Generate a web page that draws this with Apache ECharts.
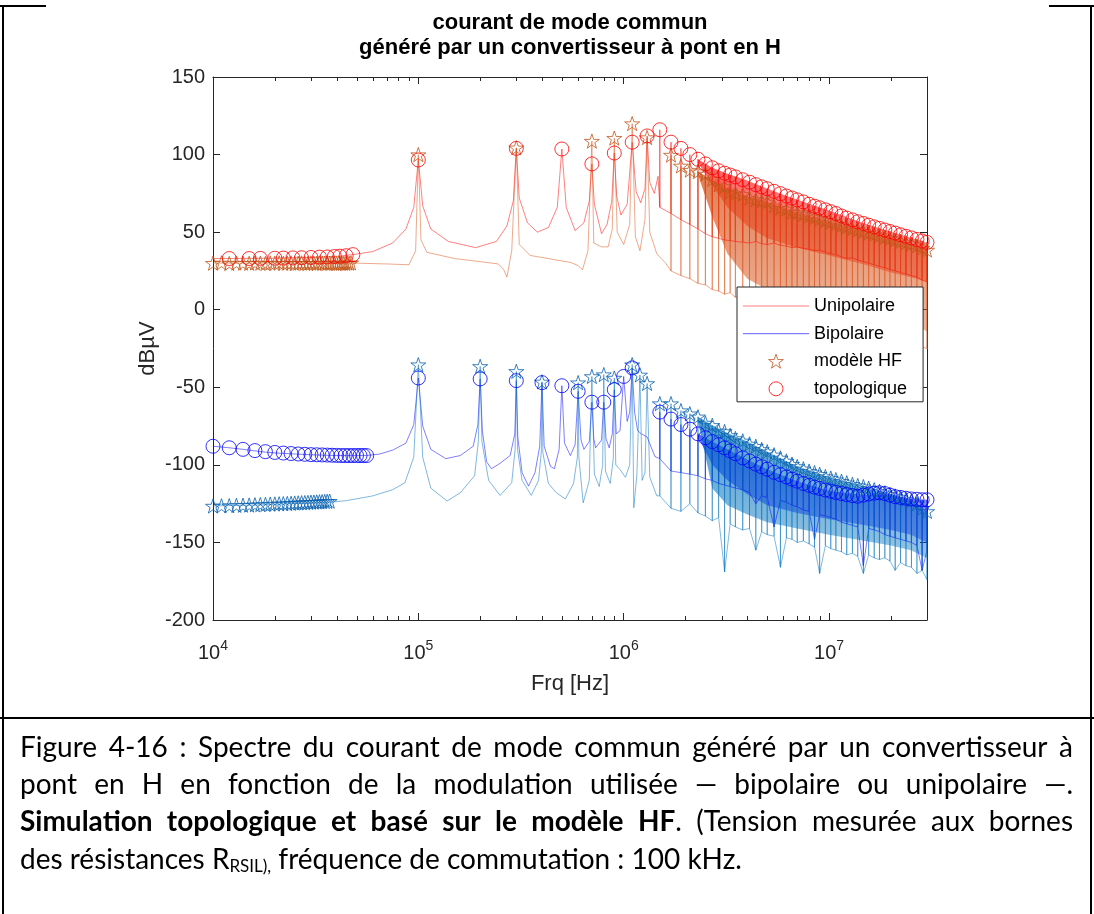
<!DOCTYPE html>
<html>
<head>
<meta charset="utf-8">
<script src="https://cdn.jsdelivr.net/npm/echarts@6.0.0/dist/echarts.min.js"></script>
<style>
html,body{margin:0;padding:0;background:#fff;}
#main{width:1094px;height:914px;}
</style>
</head>
<body>
<div id="main"></div>
<script>
// ================= DATA =================
const titleText = 'courant de mode commun\ngénéré par un convertisseur à pont en H';
const xName = 'Frq [Hz]';
const yName = 'dBµV';
const legendNames = ['Unipolaire', 'Bipolaire', 'modèle HF', 'topologique'];
const yMin = -200, yMax = 150, yStep = 50;
const xMin = 1e4, xMax = 3e7;
const minorTickF = [2e4,3e4,4e4,5e4,6e4,7e4,8e4,9e4,2e5,3e5,4e5,5e5,6e5,7e5,8e5,9e5,2e6,3e6,4e6,5e6,6e6,7e6,8e6,9e6,2e7];

// ---- Unipolaire, topological (line) : low / mid frequency path [Hz, dBµV]
const uniTopoTrace = [[1e4,33],[2e4,33.2],[3e4,33.7],[4e4,34.4],[4.8e4,35.5],[6e4,37.5],[7.5e4,43],[8.7e4,52],[9.5e4,66],[1e5,97],[1.05e5,67],[1.15e5,52],[1.4e5,44],[1.9e5,40],[2.4e5,44],[2.7e5,54],[2.9e5,70],[3e5,104],[3.1e5,72],[3.4e5,56],[3.8e5,50],[4.3e5,53],[4.75e5,66],[5e5,103.6],[5.25e5,66],[5.8e5,51],[6.4e5,56],[6.8e5,70],[7e5,94],[7.2e5,68],[7.8e5,49],[8.3e5,55],[8.75e5,70],[9e5,101],[9.25e5,73],[9.7e5,61],[1.04e6,68],[1.1e6,108],[1.15e6,76],[1.21e6,69],[1.27e6,78],[1.3e6,112],[1.34e6,82],[1.41e6,75],[1.47e6,86]];
// ---- Unipolaire, HF model (line)
const uniHFTrace = [[1e4,30],[2e4,30],[3e4,30],[4e4,30],[5e4,30],[7e4,29.5],[9e4,29],[9.7e4,38],[1e5,100],[1.03e5,45],[1.1e5,37],[1.5e5,33],[2e5,31],[2.45e5,29.5],[2.6e5,26],[2.7e5,21],[2.85e5,38],[3e5,104.4],[3.1e5,42],[3.5e5,35],[4.5e5,32.5],[5.5e5,30.5],[6e5,28.5],[6.3e5,25.7],[6.7e5,38],[7e5,108.7],[7.15e5,43],[7.8e5,40.5],[8.4e5,40.5],[8.8e5,52],[9e5,110.6],[9.3e5,50],[1e6,42],[1.07e6,55],[1.1e6,120],[1.14e6,47],[1.2e6,38],[1.27e6,58],[1.3e6,111],[1.34e6,50],[1.45e6,36],[1.6e6,30]];
// ---- Bipolaire, topological (line)
const biTopoTrace = [[1e4,-88],[1.2e4,-89],[1.4e4,-90],[1.6e4,-91],[1.8e4,-91.8],[2e4,-92.3],[2.5e4,-93],[3e4,-93.5],[4e4,-94],[5.6e4,-94],[6.5e4,-93],[7.5e4,-90.5],[8.7e4,-86],[9.5e4,-74],[1e5,-44],[1.05e5,-75],[1.15e5,-90],[1.36e5,-96],[1.6e5,-94],[1.85e5,-88],[1.95e5,-74],[2e5,-44.6],[2.05e5,-78],[2.15e5,-98],[2.27e5,-102.5],[2.5e5,-99],[2.8e5,-94],[2.95e5,-80],[3e5,-45.7],[3.05e5,-82],[3.2e5,-105],[3.44e5,-113.7],[3.7e5,-105],[3.9e5,-88],[4e5,-47],[4.1e5,-88],[4.4e5,-101],[4.6e5,-102.5],[4.85e5,-90],[5e5,-49],[5.15e5,-86],[5.5e5,-94],[5.8e5,-87],[6e5,-52.6],[6.2e5,-84],[6.4e5,-90],[6.8e5,-85],[7e5,-59.6],[7.15e5,-83],[7.3e5,-89],[7.8e5,-84],[8e5,-59.6],[8.2e5,-83],[8.5e5,-89],[8.8e5,-80],[9e5,-51.5],[9.2e5,-80],[9.6e5,-78],[1e6,-43],[1.04e6,-72],[1.07e6,-66],[1.1e6,-37.5],[1.13e6,-66],[1.17e6,-78],[1.22e6,-80],[1.3e6,-82],[1.42e6,-94.7]];
// ---- Bipolaire, HF model (line)
const biHFTrace = [[1e4,-126.5],[2e4,-125.5],[3e4,-124.5],[3.8e4,-124],[4.5e4,-123],[6e4,-120],[7.5e4,-116],[8.6e4,-111.5],[9.5e4,-95],[1e5,-35.4],[1.05e5,-95],[1.15e5,-115],[1.38e5,-123.3],[1.6e5,-118],[1.88e5,-107],[1.96e5,-85],[2e5,-36.5],[2.04e5,-85],[2.2e5,-110],[2.5e5,-119.7],[2.85e5,-111.5],[2.96e5,-90],[3e5,-39.7],[3.04e5,-90],[3.2e5,-110],[3.55e5,-119.7],[3.85e5,-110],[3.97e5,-92],[4e5,-46.5],[4.04e5,-92],[4.3e5,-112],[4.7e5,-118],[5.2e5,-122],[5.7e5,-112],[5.95e5,-95],[6e5,-47],[6.05e5,-95],[6.35e5,-124.5],[6.8e5,-110],[7e5,-43],[7.2e5,-106],[7.6e5,-114],[7.9e5,-100],[8e5,-41.8],[8.15e5,-104],[8.6e5,-112],[8.9e5,-96],[9e5,-44],[9.15e5,-100],[9.6e5,-103],[1.02e6,-108],[1.07e6,-100],[1.1e6,-35.4],[1.12e6,-127.6],[1.16e6,-106],[1.2e6,-42],[1.23e6,-110],[1.27e6,-105],[1.3e6,-47.5],[1.34e6,-108],[1.45e6,-120]];

// ---- markers at low / mid frequency
const uniStarsLow = [[10000,30],[11000,30.2],[12000,29.8],[13000,30.1],[14000,30],[15000,29.9],[16000,30.2],[17000,30],[18000,29.8],[19000,30.1],[20000,30],[21000,30.2],[22000,29.9],[23000,30],[24000,30.1],[25000,29.8],[26000,30],[27000,30.2],[28000,30],[29000,29.9],[30000,30.1],[31000,30],[32000,29.8],[33000,30.2],[34000,30],[35000,30.1],[36000,29.9],[37000,30],[38000,30.2],[39000,30],[40000,29.8],[41000,30.1],[42000,30],[43000,30],[44000,29.9],[45000,30.1],[46000,30],[47000,30.2]];
const uniCirclesLow = [[12000,33],[15000,33],[17000,33.1],[20000,33.2],[22000,33.3],[24500,33.4],[27000,33.5],[30000,33.7],[33000,33.9],[36000,34],[39000,34.3],[41500,34.5],[44500,34.8],[48000,35.5]];
const biStarsLow = [[10000,-126.5],[11000,-126.4],[12000,-126.3],[13000,-126.1],[14000,-126],[15000,-125.9],[16000,-125.7],[17000,-125.6],[18000,-125.5],[19000,-125.3],[20000,-125.2],[21000,-125.1],[22000,-125],[23000,-124.9],[24000,-124.8],[25000,-124.6],[26000,-124.5],[27000,-124.4],[28000,-124.3],[29000,-124.2],[30000,-124.1],[31000,-124],[32000,-123.9],[33000,-123.8],[34000,-123.7],[35000,-123.6],[36000,-123.5],[37000,-123.4]];
const biCirclesLow = [[10000,-88],[12000,-89],[14000,-90],[16000,-90.8],[18000,-91.5],[20000,-92],[22000,-92.4],[24000,-92.7],[26000,-93],[28000,-93.2],[30000,-93.4],[32000,-93.5],[34000,-93.6],[36000,-93.7],[38000,-93.8],[40000,-93.9],[42000,-94],[44000,-94],[46000,-94],[48000,-94],[50000,-94],[52000,-94],[54000,-94],[56000,-94]];
const uniStarsMid = [[1e5,100],[3e5,104.4],[7e5,108.7],[9e5,110.6],[1.1e6,120],[1.3e6,111]];
const uniCirclesMid = [[1e5,96.5],[3e5,104],[5e5,103.6],[7e5,94],[9e5,101],[1.1e6,108],[1.3e6,112]];
const biStarsMid = [[1e5,-35.4],[2e5,-36.5],[3e5,-39.7],[4e5,-46.5],[6e5,-47],[7e5,-43],[8e5,-41.8],[9e5,-44],[1.1e6,-35.4],[1.2e6,-42],[1.3e6,-47.5]];
const biCirclesMid = [[1e5,-44],[2e5,-44.6],[3e5,-45.7],[4e5,-47],[5e5,-49],[6e5,-52.6],[7e5,-59.6],[8e5,-59.6],[9e5,-51.5],[1e6,-43],[1.1e6,-37.5]];

// ---- dense harmonic region (>1.5 MHz): frequencies, peak values and floors
const denseF = [1.5e6,1.7e6,1.9e6,2.1e6,2.3e6,2.5e6,2.7e6,2.9e6,3.1e6,3.3e6,3.5e6,3.8e6,4.1e6,4.4e6,4.7e6,5.0e6,5.4e6,5.8e6,6.2e6,6.6e6,7.0e6,7.5e6,8.0e6,8.5e6,9.0e6,9.6e6,1.02e7,1.08e7,1.15e7,1.22e7,1.3e7,1.38e7,1.47e7,1.56e7,1.66e7,1.76e7,1.87e7,1.98e7,2.1e7,2.23e7,2.37e7,2.52e7,2.68e7,2.84e7,3.0e7];
const uniCircDense = [116,108,104,100,97,94,91.5,89.6,88,86.8,85.6,83.8,82.2,80.6,79.2,78,76.3,74.8,73.3,72,70.8,69.5,68,66.7,65.7,64.4,63.2,62,60.4,59.1,57.9,56.7,55.6,54.5,53.4,52.4,51.4,50.4,49.4,48.3,47.3,46.3,45.3,44.3,43.4];
const uniStarDense = [null,99.7,92.7,90,89,87.5,84,80.5,79.5,76,75,74.5,72,71,70.2,69.5,67,65.5,65,63,62.5,61.5,60.5,59.5,58.3,57.4,56.5,55.4,54.3,53.3,52.3,51.4,50.5,49.5,48.6,47.8,46.8,46,45,44.2,43.3,42.4,41.2,39.8,38.5];
const uniTopoFloor = [66,62,58,55,52,49,47,46,45,44.5,44,43.5,43,44,42.5,42,43,41.5,41,40,40.5,39.5,39,38,38.5,37,36,35.5,34,33,33.5,32,31,30,29,28,27,26,25,24,23,22,21,19,18];
const uniHFFloor = [30,25,22,20,17,16,13,12,10,11,8,9,6,7,5,4,3,2,1,0,-1,-2,-3,-4,-5,-6,-7,-8,-9,-10,-11,-12,-13,-14,-15,-16,-17,-18,-19,-20,-21,-22,-23,-24,-25];
const biCircDense = [-66,-70.5,-74,-77,-80,-82.5,-85,-87,-89,-91,-92.8,-95.5,-97.5,-99.5,-101.2,-102.8,-104.8,-106.3,-107.8,-109.2,-110.5,-112,-113.2,-114.3,-115.2,-116.2,-117,-117.8,-118.5,-119.2,-119.8,-120.2,-119.5,-118.8,-118.2,-118,-118.5,-119.5,-120.5,-121,-121.5,-122,-122.2,-122.5,-122.5];
const biStarDense = [-60.5,-60.5,-65,-67,-69,-73,-74.5,-78,-78.5,-81,-83,-84.5,-86.5,-88,-90,-91.5,-93.5,-95.5,-97.5,-99.5,-101,-102.5,-104,-105,-106,-107.5,-108.5,-109.5,-110.5,-111.5,-112.5,-113.3,-114,-115,-116,-117,-118,-119,-120,-121,-122,-123,-125,-128,-130];
const biTopoFloor = [-96,-104,-105,-106,-107,-109,-110,-112,-113,-114,-115,-116,-118,-125,-120,-121,-140,-123,-124,-126,-127,-129,-130,-148,-132,-133,-134,-135,-137,-138,-139,-140,-165,-141,-142,-143,-145,-146,-147,-148,-149,-150,-152,-168,-155];
const biHFFloor = [-120,-128,-130,-125,-131,-133,-136,-134,-169,-138,-140,-142,-141,-155,-143,-145,-146,-166,-147,-148,-150,-149,-151,-153,-170,-152,-154,-155,-156,-158,-157,-159,-170,-158,-160,-161,-160,-162,-168,-163,-165,-166,-170,-168,-174];

// ---- solid (merged) parts of the dense spectra: [Hz] with upper / lower edge [dBµV]
const bandF = [2.3e6,2.7e6,3.2e6,4e6,5e6,7e6,1e7,1.5e7,2e7,2.5e7,3e7];
const uniTopoBandTop = [97,91.5,87.6,83.3,78,70.8,64,55.4,50.3,46.4,43.4];
const uniTopoBandBot = [95,80,66,54,46,40,35,29,24,21,18];
const uniHFBandTop = [89,84,78.5,73,69.5,62.5,56.8,50.5,45.9,42.3,38.5];
const uniHFBandBot = [87,60,36,20,13,9,5,1,-3,-8,-14];
const biTopoBandTop = [-80,-85,-90,-96.5,-102.8,-110.5,-116.8,-119.4,-119.2,-122,-122.5];
const biTopoBandBot = [-82,-100,-110,-119,-126,-131,-135,-139,-142,-145,-150];
const biHFBandTop = [-69,-74.5,-79.5,-85,-91.5,-101,-108,-114,-119,-123,-130];
const biHFBandBot = [-72,-115,-126,-132,-137,-141,-145,-149,-152,-155,-160];

// ---- caption
const captionLines = [
  [['Figure 4-16 : Spectre du courant de mode commun généré par un convertisseur à', 'n']],
  [['pont en H en fonction de la modulation utilisée — bipolaire ou unipolaire —.', 'n']],
  [['Simulation topologique et basé sur le modèle HF', 'b'], ['. (Tension mesurée aux bornes', 'n']],
  [['des résistances R', 'n'], ['RSIL),', 'sub'], [' fréquence de commutation : 100 kHz.', 'n']]
];
const captionJustify = [true, true, true, false];

// ================= STYLE / LAYOUT =================
const FONT = '"Liberation Sans", Arial, Helvetica, sans-serif';
const AX = '#262626';
const C_UNI_TOPO = 'rgba(255,0,0,0.5)';
const C_UNI_HF = 'rgba(217,83,25,0.5)';
const C_BI_TOPO = 'rgba(0,0,255,0.5)';
const C_BI_HF = 'rgba(0,114,189,0.5)';
const STAR = 'path://M50,2 L61.8,37.6 L99,37.6 L68.9,59.5 L80.3,95 L50,73 L19.7,95 L31.1,59.5 L1,37.6 L38.2,37.6 Z';
const LINEICON = 'path://M0,0 L66,0 L66,1.2 L0,1.2 Z';

function spikes(trace, F, tops, floors) {
  const d = trace.slice();
  for (let i = 0; i < F.length; i++) {
    if (tops[i] == null) continue;
    d.push([F[i], floors[i]], [F[i], tops[i]], [F[i], floors[i]]);
  }
  return d;
}
function pairs(F, vals) {
  const d = [];
  for (let i = 0; i < F.length; i++) if (vals[i] != null) d.push([F[i], vals[i]]);
  return d;
}
function lineSeries(name, data, color, z) {
  return {name, type: 'line', data, symbol: 'none', showSymbol: false, z, silent: true,
    lineStyle: {width: 1, color}, itemStyle: {color}, emphasis: {disabled: true}};
}
function scatterSeries(name, data, symbol, size, color, z) {
  return {name, type: 'scatter', data, symbol, symbolSize: size, symbolKeepAspect: true, z, silent: true,
    itemStyle: {color: 'rgba(0,0,0,0)', borderColor: color, borderWidth: 1}, emphasis: {disabled: true}};
}
function bandSeries(F, top, bot, rgb, a0, a1, z) {
  return {type: 'custom', z, silent: true, data: [[F[0], top[0]]],
    renderItem: function (params, api) {
      const pts = [];
      for (let i = 0; i < F.length; i++) pts.push(api.coord([F[i], top[i]]));
      for (let i = F.length - 1; i >= 0; i--) pts.push(api.coord([F[i], bot[i]]));
      const fill = new echarts.graphic.LinearGradient(0, 0, 0, 1, [
        {offset: 0, color: 'rgba(' + rgb + ',' + a0 + ')'},
        {offset: 1, color: 'rgba(' + rgb + ',' + a1 + ')'}]);
      return {type: 'polygon', shape: {points: pts}, style: {fill: fill, stroke: null}};
    }};
}

// ---------- caption layout (measured, justified) ----------
function buildCaption() {
  const ctx = document.createElement('canvas').getContext('2d');
  const fam = 'Lato, "Open Sans", sans-serif';
  const fontOf = (st, fs) => st === 'b' ? 'bold ' + fs + 'px ' + fam : (st === 'sub' ? Math.round(fs * 0.62) + 'px ' + fam : fs + 'px ' + fam);
  const meas = (t, st, fs) => { ctx.font = fontOf(st, fs); return ctx.measureText(t).width; };
  const tokenize = (parts) => {
    const words = []; let cur = null;
    parts.forEach(([txt, st]) => {
      const segs = txt.split(' ');
      segs.forEach((s, j) => {
        if (j > 0) { if (cur && cur.length) words.push(cur); cur = []; }
        if (s !== '') { if (!cur) cur = []; cur.push([s, st]); }
      });
    });
    if (cur && cur.length) words.push(cur);
    return words;
  };
  const left = 20, right = 1073, ys = [748, 785, 822, 860];
  const natural = (words, f) => {
    let w = 0; words.forEach(wd => wd.forEach(([t, st]) => w += meas(t, st, f)));
    return w + meas(' ', 'n', f) * (words.length - 1);
  };
  let fs = 22;
  fs = Math.max(20, Math.min(28, fs * (right - left) / natural(tokenize(captionLines[0]), fs)));
  fs = Math.floor(fs * 10) / 10;
  const els = [];
  captionLines.forEach((parts, li) => {
    const words = tokenize(parts);
    const widths = words.map(wd => wd.reduce((a, [t, st]) => a + meas(t, st, fs), 0));
    const sum = widths.reduce((a, b) => a + b, 0);
    const gap = captionJustify[li] ? (right - left - sum) / (words.length - 1) : meas(' ', 'n', fs);
    let x = left;
    words.forEach((wd, wi) => {
      let xx = x;
      wd.forEach(([t, st]) => {
        els.push({type: 'text', x: xx, y: ys[li] + (st === 'sub' ? fs * 0.22 : 0), silent: true,
          style: {text: t, font: fontOf(st, fs), fill: '#000', align: 'left', verticalAlign: 'middle'}});
        xx += meas(t, st, fs);
      });
      x += widths[wi] + gap;
    });
  });
  return els;
}

const borderEls = [
  {type: 'line', silent: true, shape: {x1: 0, y1: 6, x2: 46, y2: 6}, style: {stroke: '#000', lineWidth: 2}},
  {type: 'line', silent: true, shape: {x1: 1049, y1: 6, x2: 1094, y2: 6}, style: {stroke: '#000', lineWidth: 2}},
  {type: 'line', silent: true, shape: {x1: 3, y1: 5, x2: 3, y2: 914}, style: {stroke: '#000', lineWidth: 2}},
  {type: 'line', silent: true, shape: {x1: 1091, y1: 5, x2: 1091, y2: 914}, style: {stroke: '#000', lineWidth: 2}},
  {type: 'line', silent: true, shape: {x1: 0, y1: 718, x2: 1094, y2: 718}, style: {stroke: '#000', lineWidth: 2}}
];

function xFmt(v) {
  const e = Math.log10(v), r = Math.round(e);
  if (Math.abs(e - r) > 1e-6) return '';
  return '{b|10}{s|' + r + '}';
}

const xAxisBase = {
  type: 'log', logBase: 10, min: xMin, max: xMax, gridIndex: 0,
  axisLine: {show: true, onZero: false, lineStyle: {color: AX, width: 1}},
  axisTick: {show: true, inside: true, length: 7, lineStyle: {color: AX, width: 1}},
  splitLine: {show: false}, minorTick: {show: false}
};
const yAxisBase = {
  type: 'value', min: yMin, max: yMax, interval: yStep, gridIndex: 0,
  axisLine: {show: true, onZero: false, lineStyle: {color: AX, width: 1}},
  axisTick: {show: true, inside: true, length: 7, lineStyle: {color: AX, width: 1}},
  splitLine: {show: false}
};

const chart = echarts.init(document.getElementById('main'), null, {renderer: 'canvas'});
const option = {
  animation: false,
  backgroundColor: '#fff',
  title: {text: titleText, left: 570, top: 10, textAlign: 'center', padding: 0,
    textStyle: {fontFamily: FONT, fontSize: 22, fontWeight: 'bold', color: '#000', lineHeight: 25}},
  grid: {left: 213, top: 77, width: 714, height: 543, containLabel: false},
  xAxis: [
    Object.assign({}, xAxisBase, {position: 'bottom',
      axisLabel: {show: true, margin: 19, formatter: xFmt,
        rich: {b: {fontFamily: FONT, fontSize: 20, color: AX, lineHeight: 24, verticalAlign: 'bottom'},
               s: {fontFamily: FONT, fontSize: 14, color: AX, lineHeight: 24, verticalAlign: 'top'}}},
      name: xName, nameLocation: 'middle', nameGap: 53, nameMoveOverlap: false,
      nameTextStyle: {fontFamily: FONT, fontSize: 22, color: AX}}),
    Object.assign({}, xAxisBase, {position: 'top', axisLabel: {show: false}})
  ],
  yAxis: [
    Object.assign({}, yAxisBase, {position: 'left',
      axisLabel: {show: true, margin: 8, fontFamily: FONT, fontSize: 20, color: AX},
      name: yName, nameLocation: 'middle', nameGap: 54, nameMoveOverlap: false,
      nameTextStyle: {fontFamily: FONT, fontSize: 22, color: AX}}),
    Object.assign({}, yAxisBase, {position: 'right', axisLabel: {show: false}})
  ],
  legend: {
    orient: 'vertical', left: 737, top: 287, z: 10,
    itemWidth: 66, itemHeight: 14, itemGap: 9.6,
    padding: [10, 16, 4, 6],
    backgroundColor: '#fff', borderColor: AX, borderWidth: 1, borderRadius: 0,
    selectedMode: false,
    textStyle: {fontFamily: FONT, fontSize: 18, color: '#000'},
    data: [
      {name: legendNames[0], icon: LINEICON, itemStyle: {color: C_UNI_TOPO, borderWidth: 0}},
      {name: legendNames[1], icon: LINEICON, itemStyle: {color: C_BI_TOPO, borderWidth: 0}},
      {name: legendNames[2], icon: STAR, itemStyle: {color: 'rgba(0,0,0,0)', borderColor: '#c0561a', borderWidth: 1}},
      {name: legendNames[3], icon: 'circle', itemStyle: {color: 'rgba(0,0,0,0)', borderColor: '#ff0000', borderWidth: 1}}
    ]
  },
  graphic: borderEls.concat(buildCaption()),
  series: [
    bandSeries(bandF, uniTopoBandTop, uniTopoBandBot, '255,0,0', 0.62, 0.38, 1),
    bandSeries(bandF, uniHFBandTop, uniHFBandBot, '217,83,25', 0.75, 0.42, 1),
    bandSeries(bandF, biTopoBandTop, biTopoBandBot, '0,0,255', 0.62, 0.4, 1),
    bandSeries(bandF, biHFBandTop, biHFBandBot, '0,114,189', 0.7, 0.42, 1),
    lineSeries(legendNames[0], spikes(uniTopoTrace, denseF, uniCircDense, uniTopoFloor), C_UNI_TOPO, 2),
    lineSeries(legendNames[0], spikes(uniHFTrace, denseF, uniStarDense, uniHFFloor), C_UNI_HF, 2),
    lineSeries(legendNames[1], spikes(biTopoTrace, denseF, biCircDense, biTopoFloor), C_BI_TOPO, 2),
    lineSeries(legendNames[1], spikes(biHFTrace, denseF, biStarDense, biHFFloor), C_BI_HF, 2),
    scatterSeries(legendNames[2], uniStarsLow.concat(uniStarsMid, pairs(denseF, uniStarDense)), STAR, 15, '#c0561a', 3),
    scatterSeries(legendNames[2], biStarsLow.concat(biStarsMid, pairs(denseF, biStarDense)), STAR, 15, '#0a62b0', 3),
    scatterSeries(legendNames[3], uniCirclesLow.concat(uniCirclesMid, pairs(denseF, uniCircDense)), 'circle', 14, '#ff0000', 4),
    scatterSeries(legendNames[3], biCirclesLow.concat(biCirclesMid, pairs(denseF, biCircDense)), 'circle', 14, '#0000ff', 4),
    {type: 'custom', z: 5, silent: true, data: minorTickF.map(f => [f, 0]),
      renderItem: function (params, api) {
        const f = api.value(0);
        const b = api.coord([f, yMin]), t = api.coord([f, yMax]);
        const x = Math.round(b[0]) + 0.5;
        return {type: 'group', children: [
          {type: 'line', shape: {x1: x, y1: b[1], x2: x, y2: b[1] - 4}, style: {stroke: AX, lineWidth: 1}},
          {type: 'line', shape: {x1: x, y1: t[1], x2: x, y2: t[1] + 4}, style: {stroke: AX, lineWidth: 1}}
        ]};
      }}
  ]
};
chart.setOption(option);
</script>
</body>
</html>
